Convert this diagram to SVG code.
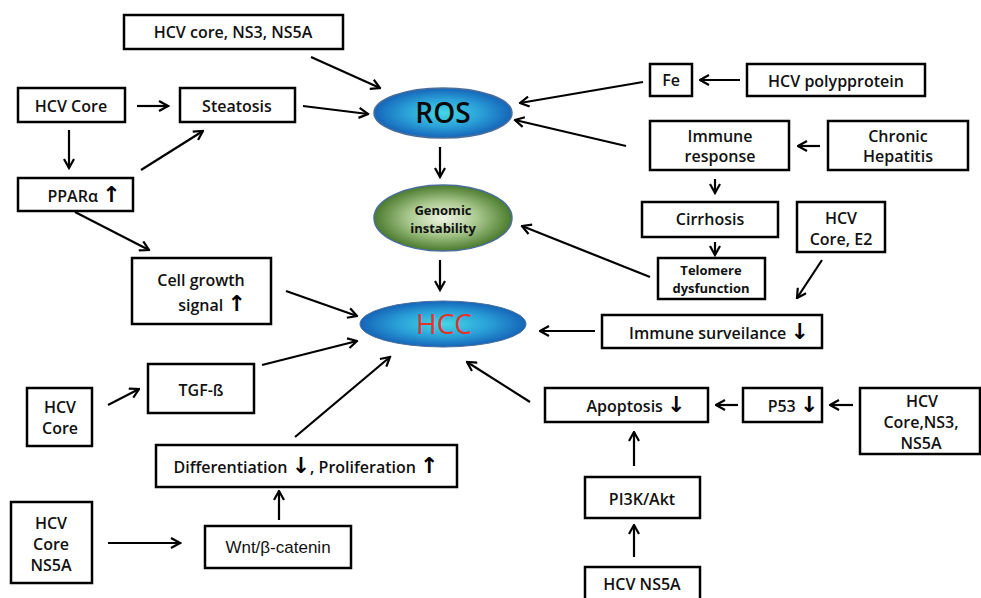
<svg xmlns="http://www.w3.org/2000/svg" width="981" height="598" viewBox="0 0 981 598">
<style>
.box{fill:#fff;stroke:#000;stroke-width:2.5}
.t{font-family:"Open Sans","Noto Sans",sans-serif;font-weight:600;font-size:16px;fill:#111;text-anchor:middle}
.s{font-size:13px;font-weight:700}
.ar{font-family:"DejaVu Sans",sans-serif;font-weight:700;font-size:22px;fill:#000}
.c{stroke:#000;stroke-width:2.2;fill:none;marker-end:url(#ah)}
</style>
<defs>
<marker id="ah" viewBox="0 0 12 12" refX="10.5" refY="6" markerWidth="12" markerHeight="12" markerUnits="userSpaceOnUse" orient="auto">
<path d="M1.5,1 L10.5,6 L1.5,11" fill="none" stroke="#000" stroke-width="2.2"/>
</marker>
<radialGradient id="blue" cx="50%" cy="50%" r="50%">
<stop offset="0" stop-color="#45d8e4"/>
<stop offset="0.55" stop-color="#2aa0d8"/>
<stop offset="1" stop-color="#1565b8"/>
</radialGradient>
<radialGradient id="green" cx="50%" cy="50%" r="50%">
<stop offset="0" stop-color="#eef4e4"/>
<stop offset="0.5" stop-color="#a9c88e"/>
<stop offset="1" stop-color="#4a7a2c"/>
</radialGradient>
</defs>

<g id="connectors">
<line class="c" x1="311" y1="57" x2="380" y2="88"/>
<line class="c" x1="137" y1="106" x2="168" y2="106"/>
<line class="c" x1="303" y1="106" x2="368" y2="114"/>
<line class="c" x1="69" y1="130" x2="69" y2="168"/>
<line class="c" x1="141" y1="170" x2="203" y2="131"/>
<line class="c" x1="75" y1="212" x2="149" y2="250"/>
<line class="c" x1="440" y1="147" x2="440" y2="177"/>
<line class="c" x1="440" y1="260" x2="440" y2="290"/>
<line class="c" x1="286" y1="291" x2="357" y2="316"/>
<line class="c" x1="262" y1="365" x2="357" y2="341"/>
<line class="c" x1="108" y1="405" x2="139" y2="389"/>
<line class="c" x1="295" y1="437" x2="390" y2="357"/>
<line class="c" x1="279" y1="520" x2="279" y2="491"/>
<line class="c" x1="108" y1="543" x2="180" y2="543"/>
<line class="c" x1="740" y1="80" x2="700" y2="80"/>
<line class="c" x1="643" y1="82" x2="520" y2="103"/>
<line class="c" x1="626" y1="146" x2="515" y2="120"/>
<line class="c" x1="820" y1="146" x2="798" y2="146"/>
<line class="c" x1="715" y1="179" x2="715" y2="193"/>
<line class="c" x1="715" y1="242" x2="715" y2="255"/>
<line class="c" x1="650" y1="277" x2="522" y2="226"/>
<line class="c" x1="822" y1="260" x2="797" y2="298"/>
<line class="c" x1="595" y1="331" x2="540" y2="331"/>
<line class="c" x1="530" y1="402" x2="467" y2="362"/>
<line class="c" x1="738" y1="405" x2="716" y2="405"/>
<line class="c" x1="853" y1="405" x2="830" y2="405"/>
<line class="c" x1="634" y1="466" x2="634" y2="432"/>
<line class="c" x1="634" y1="557" x2="634" y2="525"/>
</g>

<g id="ros"><ellipse cx="443" cy="113" rx="69" ry="25" fill="url(#blue)" stroke="#4a6e9a" stroke-width="1.5"/>
<text class="t" x="443" y="123" style="font-size:28px;fill:#0a0a0a">ROS</text></g>
<g id="genomic"><ellipse cx="443" cy="218" rx="69" ry="33" fill="url(#green)" stroke="#4a6e9a" stroke-width="1.5"/>
<text class="t" x="443" y="215" style="font-size:13px;font-weight:700">Genomic</text>
<text class="t" x="443" y="233" style="font-size:13px;font-weight:700">instability</text></g>
<g id="hcc"><ellipse cx="443" cy="324" rx="83" ry="23" fill="url(#blue)" stroke="#4a6e9a" stroke-width="1"/>
<text class="t" x="444" y="334" style="font-size:28px;fill:#e8302a;font-weight:500">HCC</text></g>

<g id="n-hcv-core-ns3-ns5a"><rect class="box" x="124" y="15" width="219" height="34"/><text class="t" x="233" y="38">HCV core, NS3, NS5A</text></g>
<g id="n-hcv-core1"><rect class="box" x="18" y="88" width="107" height="34"/><text class="t" x="71" y="112">HCV Core</text></g>
<g id="n-steatosis"><rect class="box" x="180" y="88" width="115" height="34"/><text class="t" x="237" y="112">Steatosis</text></g>
<g id="n-ppar"><rect class="box" x="18" y="178" width="115" height="33"/><text class="t" x="84" y="202">PPARα <tspan class="ar">↑</tspan></text></g>
<g id="n-cellgrowth"><rect class="box" x="132" y="258" width="139" height="66"/><text class="t" x="201" y="286">Cell growth</text><text class="t" x="212" y="311">signal <tspan class="ar">↑</tspan></text></g>
<g id="n-tgf"><rect class="box" x="148" y="364" width="106" height="49"/><text class="t" x="201" y="396">TGF-ß</text></g>
<g id="n-hcv-core2"><rect class="box" x="27" y="388" width="65" height="58"/><text class="t" x="60" y="413">HCV</text><text class="t" x="60" y="434">Core</text></g>
<g id="n-diff"><rect class="box" x="156" y="445" width="301" height="42"/><text class="t" x="306" y="473">Differentiation <tspan class="ar">↓</tspan>, Proliferation <tspan class="ar">↑</tspan></text></g>
<g id="n-hcv-core-ns5a"><rect class="box" x="11" y="502" width="81" height="81"/><text class="t" x="51" y="529">HCV</text><text class="t" x="51" y="550">Core</text><text class="t" x="51" y="571">NS5A</text></g>
<g id="n-wnt"><rect class="box" x="205" y="526" width="146" height="42"/><text x="278" y="553" style="font-family:'Liberation Sans',Arial,sans-serif;font-size:17px;text-anchor:middle;fill:#111">Wnt/β-catenin</text></g>

<g id="n-fe"><rect class="box" x="650" y="64" width="42" height="32"/><text class="t" x="671" y="86">Fe</text></g>
<g id="n-polyprotein"><rect class="box" x="747" y="64" width="178" height="32"/><text class="t" x="836" y="87">HCV polypprotein</text></g>
<g id="n-immune-response"><rect class="box" x="650" y="121" width="139" height="49"/><text class="t" x="720" y="142">Immune</text><text class="t" x="720" y="162">response</text></g>
<g id="n-chronic"><rect class="box" x="828" y="121" width="140" height="49"/><text class="t" x="898" y="142">Chronic</text><text class="t" x="898" y="162">Hepatitis</text></g>
<g id="n-cirrhosis"><rect class="box" x="642" y="202" width="136" height="35"/><text class="t" x="710" y="225">Cirrhosis</text></g>
<g id="n-hcv-core-e2"><rect class="box" x="797" y="202" width="88" height="50"/><text class="t" x="841" y="224">HCV</text><text class="t" x="841" y="245">Core, E2</text></g>
<g id="n-telomere"><rect class="box" x="658" y="258" width="107" height="41"/><text class="t s" x="711" y="275">Telomere</text><text class="t s" x="711" y="293">dysfunction</text></g>
<g id="n-immune-surv"><rect class="box" x="602" y="315" width="220" height="33"/><text class="t" x="719" y="339">Immune surveilance <tspan class="ar">↓</tspan></text></g>
<g id="n-apoptosis"><rect class="box" x="545" y="388" width="163" height="34"/><text class="t" x="636" y="412">Apoptosis <tspan class="ar">↓</tspan></text></g>
<g id="n-p53"><rect class="box" x="743" y="388" width="79" height="34"/><text class="t" x="793" y="412">P53 <tspan class="ar">↓</tspan></text></g>
<g id="n-hcv-core-ns3-ns5a-2"><rect class="box" x="860" y="388" width="120" height="66"/><text class="t" x="922" y="407">HCV</text><text class="t" x="921" y="428">Core,NS3,</text><text class="t" x="921" y="449">NS5A</text></g>
<g id="n-pi3k"><rect class="box" x="585" y="477" width="115" height="41"/><text class="t" x="642" y="505">PI3K/Akt</text></g>
<g id="n-hcv-ns5a"><rect class="box" x="585" y="567" width="115" height="40"/><text class="t" x="642" y="590">HCV NS5A</text></g>
</svg>
